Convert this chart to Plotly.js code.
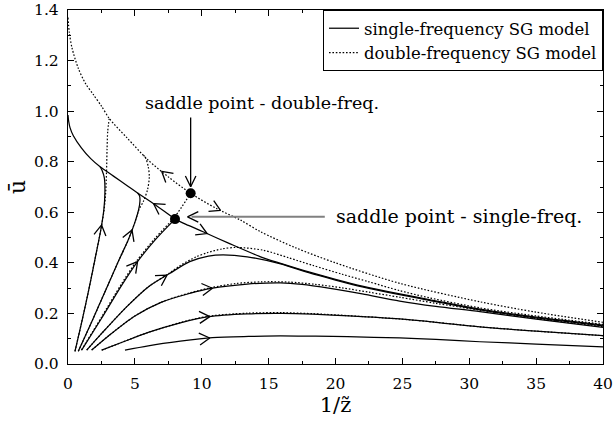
<!DOCTYPE html>
<html><head><meta charset="utf-8">
<script src="https://cdn.plot.ly/plotly-3.0.1.min.js"></script>
<style>html,body{margin:0;padding:0;background:#fff}</style>
</head><body><div id="chart" style="width:613px;height:424px"></div>
<script>
// ---------- data ----------
const sepSingleX = [0.0, 0.05, 0.15, 0.4, 1.0, 1.7, 2.4, 3.4, 4.4, 5.4, 6.4, 7.2, 8.0, 9.0, 10.1, 12.0, 14.4, 15.9, 18.0, 20.0, 22.0, 24.8, 27.0, 30.8, 35.0, 40.0];
const sepSingleY = [0.985, 0.96, 0.935, 0.903, 0.855, 0.812, 0.78, 0.743, 0.706, 0.669, 0.634, 0.604, 0.573, 0.548, 0.523, 0.478, 0.424, 0.398, 0.364, 0.335, 0.308, 0.277, 0.255, 0.217, 0.185, 0.154];

const sepDoubleX = [0.0, 0.1, 0.3, 0.77, 1.3, 1.9, 2.5, 3.1, 4.4, 6.0, 7.5, 9.17, 11.1, 12.9, 14.4, 17.0, 20.0, 24.8, 30.8, 35.0, 40.0];
const sepDoubleY = [1.37, 1.31, 1.25, 1.169, 1.11, 1.065, 1.02, 0.97, 0.895, 0.806, 0.74, 0.675, 0.615, 0.569, 0.523, 0.46, 0.40, 0.319, 0.246, 0.205, 0.165];

const trajASolidX = [0.52, 1.0, 1.5, 2.0, 2.45, 2.68, 2.76, 2.72, 2.55, 2.4];
const trajASolidY = [0.05, 0.16, 0.28, 0.41, 0.53, 0.61, 0.68, 0.735, 0.765, 0.78];
const trajADotX = [0.52, 1.0, 1.5, 2.0, 2.45, 2.7, 2.82, 2.88, 2.92, 2.97, 3.08];
const trajADotY = [0.05, 0.16, 0.28, 0.41, 0.53, 0.61, 0.68, 0.76, 0.85, 0.92, 0.97];

const trajBSolidX = [0.77, 1.8, 2.8, 3.8, 4.5, 5.0, 5.28, 5.38, 5.35, 5.2];
const trajBSolidY = [0.05, 0.17, 0.29, 0.41, 0.49, 0.56, 0.61, 0.645, 0.665, 0.677];
const trajBDotX = [0.77, 1.8, 2.8, 3.8, 4.5, 5.0, 5.3, 5.65, 5.95, 6.08, 6.0, 5.8, 5.55];
const trajBDotY = [0.05, 0.17, 0.29, 0.41, 0.49, 0.56, 0.61, 0.645, 0.69, 0.74, 0.78, 0.815, 0.832];

const trajCSolidX = [1.02, 2.5, 4.0, 5.13, 6.5, 8.0];
const trajCSolidY = [0.055, 0.18, 0.31, 0.40, 0.49, 0.573];
const trajCDotX = [1.0, 2.5, 4.0, 5.13, 6.5, 7.95, 9.17];
const trajCDotY = [0.055, 0.185, 0.317, 0.407, 0.497, 0.58, 0.675];

const trajDSolidX = [1.4, 2.5, 4.4, 6.0, 7.6, 9.1, 10.5, 11.6, 13.4, 15.9, 18.0, 20.0, 22.0, 24.8, 27.0, 30.8, 35.0, 40.0];
const trajDSolidY = [0.055, 0.12, 0.227, 0.305, 0.358, 0.405, 0.427, 0.432, 0.424, 0.396, 0.361, 0.332, 0.305, 0.274, 0.252, 0.214, 0.182, 0.151];
const trajDDotX = [1.4, 2.5, 4.4, 6.0, 7.6, 8.4, 9.6, 10.4, 11.5, 12.6, 14.6, 16.5, 18.3, 20.5, 22.5, 24.8, 27.0, 30.8, 35.0, 40.0];
const trajDDotY = [0.055, 0.12, 0.227, 0.305, 0.36, 0.39, 0.424, 0.44, 0.455, 0.461, 0.45, 0.42, 0.39, 0.355, 0.325, 0.29, 0.262, 0.222, 0.19, 0.157];

const trajESolidX = [1.77, 3.0, 5.0, 7.0, 9.1, 10.7, 13.4, 15.9, 17.5, 19.6, 22.0, 24.8, 27.5, 30.8, 35.0, 40.0];
const trajESolidY = [0.055, 0.11, 0.19, 0.245, 0.279, 0.299, 0.316, 0.321, 0.315, 0.299, 0.277, 0.249, 0.228, 0.207, 0.177, 0.145];
const trajEDotX = [1.77, 3.0, 5.0, 7.0, 9.1, 10.7, 12.5, 14.5, 16.5, 18.5, 20.5, 22.5, 24.8, 27.5, 30.8, 35.0, 40.0];
const trajEDotY = [0.055, 0.11, 0.19, 0.245, 0.281, 0.302, 0.318, 0.325, 0.324, 0.315, 0.301, 0.284, 0.264, 0.24, 0.213, 0.18, 0.148];

const trajFSolidX = [2.52, 4.0, 6.0, 8.4, 10.5, 13.4, 16.0, 18.3, 21.0, 24.8, 27.5, 30.8, 35.0, 40.0];
const trajFSolidY = [0.055, 0.085, 0.125, 0.163, 0.187, 0.198, 0.20, 0.197, 0.19, 0.178, 0.165, 0.147, 0.13, 0.112];
const trajFDotX = [2.52, 4.0, 6.0, 8.4, 10.5, 13.4, 16.0, 18.3, 21.0, 24.8, 27.5, 30.8, 35.0, 40.0];
const trajFDotY = [0.055, 0.085, 0.125, 0.164, 0.189, 0.201, 0.203, 0.199, 0.191, 0.178, 0.165, 0.147, 0.13, 0.112];

const trajGSolidX = [4.26, 6.0, 8.4, 10.8, 13.5, 15.9, 18.5, 20.9, 24.8, 27.5, 30.8, 35.0, 40.0];
const trajGSolidY = [0.055, 0.072, 0.09, 0.104, 0.109, 0.111, 0.11, 0.108, 0.103, 0.097, 0.088, 0.079, 0.068];

const saddleX = [8.0, 9.17];
const saddleY = [0.573, 0.675];

const legendNames = ['single-frequency SG model', 'double-frequency SG model'];
const noteDouble = 'saddle point - double-freq.';
const noteSingle = 'saddle point - single-freq.';

// ---------- layout constants ----------
const W = 613, H = 424;
const M = {l: 68, r: 10, t: 10, b: 60};
const XR = [0, 40], YR = [0, 1.4];
const SX = (W - M.l - M.r) / (XR[1] - XR[0]);
const SY = (H - M.t - M.b) / (YR[1] - YR[0]);
const FONT = 'DejaVu Serif';

// chevron (open arrowhead) placed on a curve, computed through the axis scales
function chevron(xs, ys, key, val, dir, L, ang) {
  L = L || 12; ang = ang || 30;
  const arr = key === 'x' ? xs : ys;
  for (let i = 0; i < arr.length - 1; i++) {
    const a = arr[i], b = arr[i + 1];
    if ((a - val) * (b - val) <= 0 && a !== b) {
      const t = (val - a) / (b - a);
      const tx = xs[i] + t * (xs[i + 1] - xs[i]);
      const ty = ys[i] + t * (ys[i + 1] - ys[i]);
      let dx = (xs[i + 1] - xs[i]) * SX * dir, dy = (ys[i + 1] - ys[i]) * SY * dir;
      const n = Math.hypot(dx, dy); dx /= n; dy /= n;
      return chevronAt(tx, ty, dx, dy, L, ang);
    }
  }
  return {x: [], y: []};
}
function chevronAt(tx, ty, dx, dy, L, ang) {
  const r = ang * Math.PI / 180;
  const w = [];
  for (const s of [1, -1]) {
    const c = Math.cos(s * r), sn = Math.sin(s * r);
    const rx = dx * c - dy * sn, ry = dx * sn + dy * c;
    w.push([tx - L * rx / SX, ty - L * ry / SY]);
  }
  return {x: [w[0][0], tx, w[1][0], null], y: [w[0][1], ty, w[1][1], null]};
}

const chevs = [
  chevron(trajASolidX, trajASolidY, 'y', 0.55, 1),
  chevron(trajBSolidX, trajBSolidY, 'y', 0.53, 1),
  chevron(trajCSolidX, trajCSolidY, 'x', 5.2, 1),
  chevron(trajDSolidX, trajDSolidY, 'x', 7.4, 1),
  chevron(trajESolidX, trajESolidY, 'x', 10.8, 1),
  chevron(trajFSolidX, trajFSolidY, 'x', 10.6, 1),
  chevron(trajGSolidX, trajGSolidY, 'x', 10.6, 1),
  chevron(sepSingleX, sepSingleY, 'x', 10.4, 1),
  chevron(sepSingleX, sepSingleY, 'x', 6.4, -1),
  chevron(sepDoubleX, sepDoubleY, 'x', 7.0, -1),
  chevron(sepDoubleX, sepDoubleY, 'x', 11.4, 1),
];
// annotation arrows
const topTipY = saddleY[1] + 6.6 / SY;
const topStartY = 0.975;
const sideTipX = saddleX[0] + 12.5 / SX;
const sideY = saddleY[0] + 2.3 / SY;
const sideEndX = 19.2;
chevs.push(chevronAt(saddleX[1], topTipY, 0, -1, 12, 26));
chevs.push(chevronAt(sideTipX, sideY, -1, 0, 12, 26));

const chevX = [], chevY = [];
chevs.forEach(c => { chevX.push(...c.x); chevY.push(...c.y); });

const solidLine = {color: 'black', width: 1.25, shape: 'spline', smoothing: 0.8};
const dotLine = {color: 'black', width: 1.2, dash: '1.6px,1.8px', shape: 'spline', smoothing: 0.8};

function tr(x, y, line, extra) {
  return Object.assign({x: x, y: y, type: 'scatter', mode: 'lines', line: line,
    showlegend: false, hoverinfo: 'skip'}, extra || {});
}

const traces = [
  tr(trajADotX, trajADotY, dotLine),
  tr(trajBDotX, trajBDotY, dotLine),
  tr(trajCDotX, trajCDotY, dotLine),
  tr(trajDDotX, trajDDotY, dotLine),
  tr(trajEDotX, trajEDotY, dotLine),
  tr(trajFDotX, trajFDotY, dotLine),
  tr(sepDoubleX, sepDoubleY, dotLine, {name: legendNames[1], showlegend: true, legendrank: 2}),
  tr(trajASolidX, trajASolidY, solidLine),
  tr(trajBSolidX, trajBSolidY, solidLine),
  tr(trajCSolidX, trajCSolidY, solidLine),
  tr(trajDSolidX, trajDSolidY, solidLine),
  tr(trajESolidX, trajESolidY, solidLine),
  tr(trajFSolidX, trajFSolidY, solidLine),
  tr(trajGSolidX, trajGSolidY, solidLine),
  tr(sepSingleX, sepSingleY, solidLine, {name: legendNames[0], showlegend: true, legendrank: 1}),
  tr(chevX, chevY, {color: 'black', width: 1.3}),
  {x: saddleX, y: saddleY, type: 'scatter', mode: 'markers', marker: {color: 'black', size: 10},
   showlegend: false, hoverinfo: 'skip'}
];

const axisCommon = {
  ticks: 'inside', ticklen: 6, tickwidth: 1, tickcolor: 'black',
  showline: true, linecolor: 'black', linewidth: 1.2, mirror: 'allticks',
  showgrid: false, zeroline: false, ticklabelstandoff: 5,
  tickfont: {family: FONT, size: 15.5, color: 'black'}
};

const layout = {
  width: W, height: H, margin: M,
  paper_bgcolor: 'white', plot_bgcolor: 'white',
  font: {family: FONT, color: 'black'},
  xaxis: Object.assign({}, axisCommon, {
    range: XR, tick0: 0, dtick: 5,
    minor: {ticks: 'inside', ticklen: 3, dtick: 2.5, tickcolor: 'black', showgrid: false},
    title: {text: '1/z\u0303', font: {family: FONT, size: 21}, standoff: 5}
  }),
  yaxis: Object.assign({}, axisCommon, {
    range: YR, tick0: 0, dtick: 0.2, tickformat: '.1f',
    minor: {ticks: 'inside', ticklen: 3, dtick: 0.1, tickcolor: 'black', showgrid: false},
    title: {text: '\u016b', font: {family: FONT, size: 22}, standoff: 2}
  }),
  legend: {x: 1, y: 1, xanchor: 'right', yanchor: 'top', bgcolor: 'white',
    bordercolor: 'black', borderwidth: 1, font: {family: FONT, size: 16.5, color: 'black'},
    tracegroupgap: 0, itemwidth: 30},
  shapes: [
    {type: 'line', xref: 'x', yref: 'y', x0: saddleX[1], x1: saddleX[1], y0: topStartY, y1: topTipY,
     line: {color: 'black', width: 1.3}},
    {type: 'line', xref: 'x', yref: 'y', x0: sideTipX + 0.3, x1: sideEndX, y0: sideY, y1: sideY,
     line: {color: '#808080', width: 2}}
  ],
  annotations: [
    {x: 14.5, y: 1.032, xref: 'x', yref: 'y', text: noteDouble, showarrow: false,
     xanchor: 'center', yanchor: 'middle', font: {family: FONT, size: 17.5, color: 'black'}},
    {x: 19.9, y: 0.585, xref: 'x', yref: 'y', text: noteSingle, showarrow: false,
     xanchor: 'left', yanchor: 'middle', font: {family: FONT, size: 19, color: 'black'}}
  ]
};

Plotly.newPlot('chart', traces, layout, {staticPlot: true, displayModeBar: false});
</script></body></html>
